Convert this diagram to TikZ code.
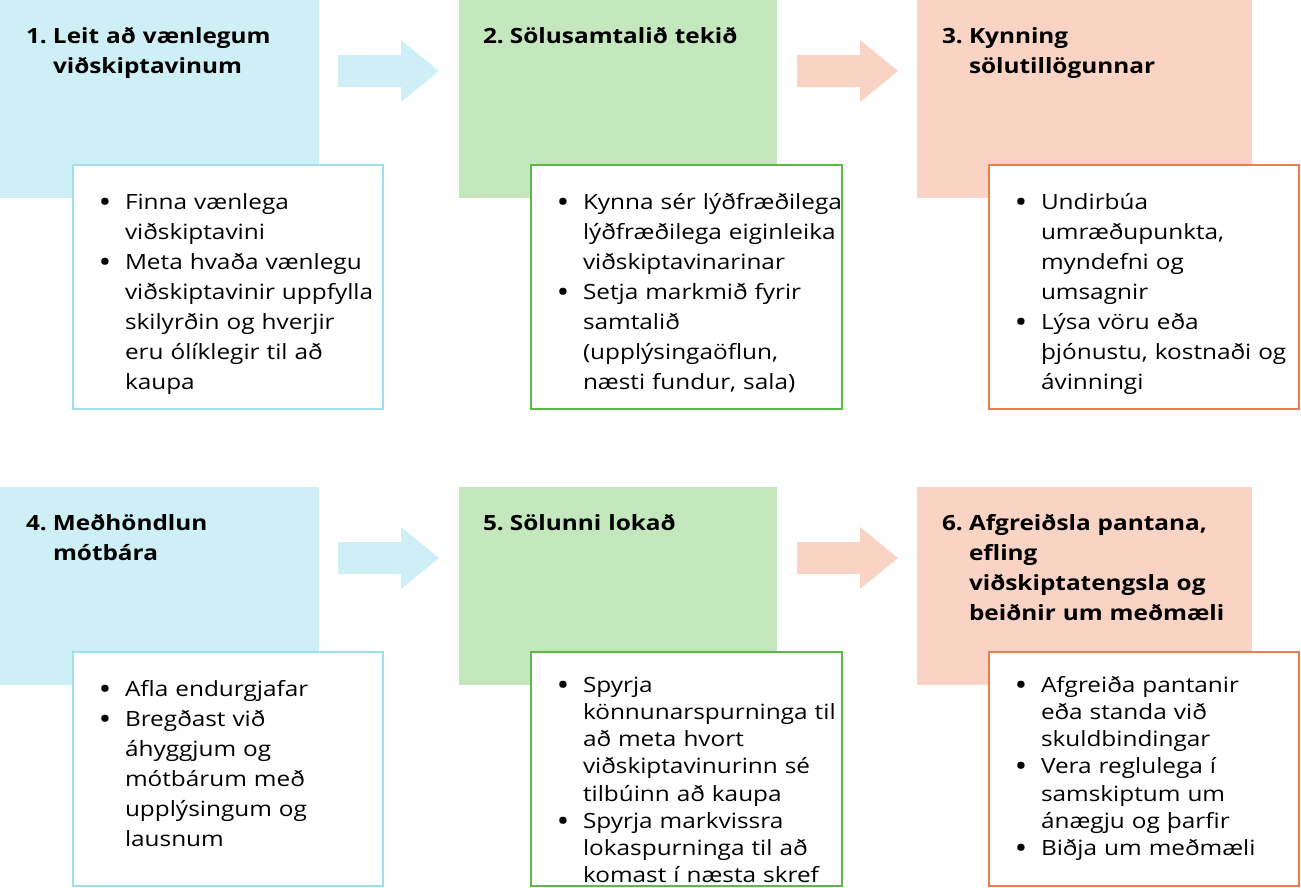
\documentclass[tikz,border=0pt]{standalone}
\usepackage{fontspec}
\setmainfont{Open Sans}[FakeStretch=1.16]
\usepackage{graphicx}
\usepackage{tikz}

\definecolor{blueFill}{HTML}{CDEFF5}
\definecolor{blueLine}{HTML}{A0E0EC}
\definecolor{greenFill}{HTML}{C4E7BE}
\definecolor{greenLine}{HTML}{5CB948}
\definecolor{salmonFill}{HTML}{F9D3C4}
\definecolor{salmonLine}{HTML}{EE7C4C}

\newcommand{\bul}{\par\noindent\hangindent=30pt\hangafter=1\strut\makebox[30pt][l]{\makebox[20pt]{\raisebox{-3pt}{\scalebox{1.4}{\textbullet}}}}}
\newcommand{\ttl}[1]{\noindent\hangindent=27pt\hangafter=1\strut\makebox[27pt][l]{#1}}

\begin{document}
\begin{tikzpicture}[x=1pt, y=-1pt,
  every node/.style={anchor=north west, inner sep=0pt, outer sep=0pt},
  title/.style={text width=340pt, font=\fontsize{21}{30}\selectfont\bfseries},
  list/.style={text width=340pt, font=\fontsize{21}{30}\selectfont},
  tight/.style={font=\fontsize{21}{27.2}\selectfont},
  box/.style={fill=white, line width=2pt}]
\useasboundingbox (0,0) rectangle (1301,887);

\fill[blueFill] (0,0) rectangle (319,198);
\fill[greenFill] (459,0) rectangle (777,198);
\fill[salmonFill] (917,0) rectangle (1252,198);
\fill[blueFill] (0,487) rectangle (319,685);
\fill[greenFill] (459,487) rectangle (777,685);
\fill[salmonFill] (917,487) rectangle (1252,685);

\fill[blueFill] (338,55) -- (401,55) -- (401,40) -- (439,71) -- (401,102) -- (401,87) -- (338,87) -- cycle;
\fill[salmonFill] (797,55) -- (860,55) -- (860,40) -- (898,71) -- (860,102) -- (860,87) -- (797,87) -- cycle;
\fill[blueFill] (338,542) -- (401,542) -- (401,527) -- (439,558) -- (401,589) -- (401,574) -- (338,574) -- cycle;
\fill[salmonFill] (797,542) -- (860,542) -- (860,527) -- (898,558) -- (860,589) -- (860,574) -- (797,574) -- cycle;

\draw[box, draw=blueLine] (73,165) rectangle (383,409);
\draw[box, draw=greenLine] (531,165) rectangle (842,409);
\draw[box, draw=salmonLine] (989,165) rectangle (1299,409);
\draw[box, draw=blueLine] (73,652) rectangle (383,886);
\draw[box, draw=greenLine] (531,652) rectangle (842,886);
\draw[box, draw=salmonLine] (989,652) rectangle (1299,886);

\node[title] (head1) at (26,22) {\ttl{1.}Leit að vænlegum\newline viðskiptavinum\par};
\node[title] (head2) at (483,22) {\ttl{2.}Sölusamtalið tekið\par};
\node[title] (head3) at (942,22) {\ttl{3.}Kynning\newline sölutillögunnar\par};
\node[title] (head4) at (26,509) {\ttl{4.}Meðhöndlun\newline mótbára\par};
\node[title] (head5) at (483,509) {\ttl{5.}Sölunni lokað\par};
\node[title] (head6) at (942,509) {\ttl{6.}Afgreiðsla pantana,\newline efling\newline viðskiptatengsla og\newline beiðnir um meðmæli\par};

\node[list] (list1) at (95,179) {\bul Finna vænlega\newline viðskiptavini
  \bul Meta hvaða vænlegu\newline viðskiptavinir uppfylla\newline skilyrðin og hverjir\newline eru ólíklegir til að\newline kaupa\par};
\node[list] (list2) at (553,179) {\bul Kynna sér lýðfræðilega\newline lýðfræðilega eiginleika\newline viðskiptavinarinar
  \bul Setja markmið fyrir\newline samtalið\newline (upplýsingaöflun,\newline næsti fundur, sala)\par};
\node[list] (list3) at (1011,179) {\bul Undirbúa\newline umræðupunkta,\newline myndefni og\newline umsagnir
  \bul Lýsa vöru eða\newline þjónustu, kostnaði og\newline ávinningi\par};
\node[list] (list4) at (95,666) {\bul Afla endurgjafar
  \bul Bregðast við\newline áhyggjum og\newline mótbárum með\newline upplýsingum og\newline lausnum\par};
\node[list, tight] (list5) at (553,665) {\bul Spyrja\newline könnunarspurninga til\newline að meta hvort\newline viðskiptavinurinn sé\newline tilbúinn að kaupa
  \bul Spyrja markvissra\newline lokaspurninga til að\newline komast í næsta skref\par};
\node[list, tight] (list6) at (1011,665) {\bul Afgreiða pantanir\newline eða standa við\newline skuldbindingar
  \bul Vera reglulega í\newline samskiptum um\newline ánægju og þarfir
  \bul Biðja um meðmæli\par};
\end{tikzpicture}
\end{document}
